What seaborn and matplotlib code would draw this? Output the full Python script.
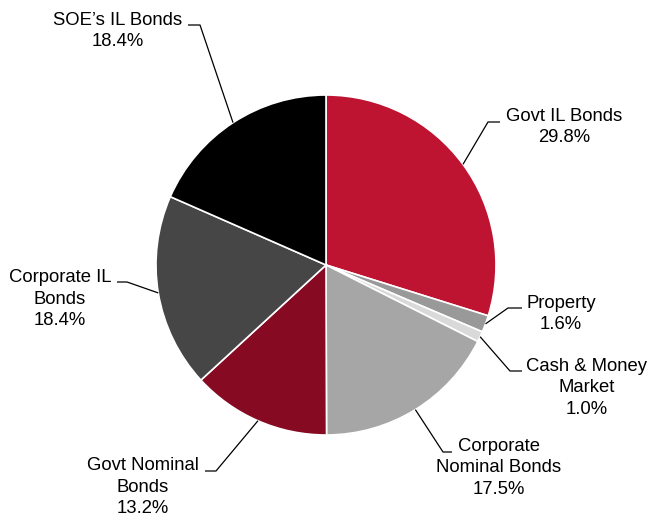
import numpy as np
import matplotlib
matplotlib.use('Agg')
import matplotlib.pyplot as plt
import seaborn as sns

##
labels = ['Govt IL Bonds', 'Property', 'Cash & Money\nMarket', 'Corporate\nNominal Bonds',
          'Govt Nominal\nBonds', 'Corporate IL\nBonds', 'SOE\u2019s IL Bonds']
shares = [29.8, 1.6, 1.0, 17.5, 13.2, 18.4, 18.4]
colors = ['#BE1432', '#999999', '#D9D9D9', '#A6A6A6', '#870A23', '#464646', '#000000']

# layout, in pixels from top-left: text centre, elbow, end of the horizontal bit
text_pos = [(564, 127), (561, 314), (587, 388), (499, 468), (143, 487), (60, 299), (118, 31)]
elbow_pos = [(488, 122), (508, 308), (510, 371), (443, 452), (216, 471), (127, 282), (200, 25)]
end_x = [500, 522, 522, 452, 205, 117, 188]

W, H = 649, 519
cx, cy, R = 326, 265, 170

##
sns.set_style('white')
plt.rcParams['font.family'] = ['Liberation Sans', 'DejaVu Sans']

fig = plt.figure(figsize=(W / 100, H / 100), dpi=100)
ax = fig.add_axes([0, 0, 1, 1])

wedges, _ = ax.pie(shares, colors=colors, startangle=90, counterclock=False,
                   center=(cx, H - cy), radius=R, frame=True,
                   wedgeprops=dict(edgecolor='white', linewidth=1.2))

for w, lab, sh, tp, ep, ex in zip(wedges, labels, shares, text_pos, elbow_pos, end_x):
  mid = np.deg2rad((w.theta1 + w.theta2) / 2)
  px = cx + R * np.cos(mid)
  py = H - cy + R * np.sin(mid)
  ax.plot([px, ep[0], ex], [py, H - ep[1], H - ep[1]], color='black', lw=0.9,
          solid_capstyle='butt', zorder=5)
  ax.text(tp[0], H - tp[1], '{}\n{:.1f}%'.format(lab, sh), ha='center', va='center',
          fontsize=13.3, linespacing=1.35, color='black')

ax.set_xlim(0, W)
ax.set_ylim(0, H)
ax.set_aspect('equal')
ax.axis('off')

##
fig.savefig('out.png', dpi=100, facecolor='white')
